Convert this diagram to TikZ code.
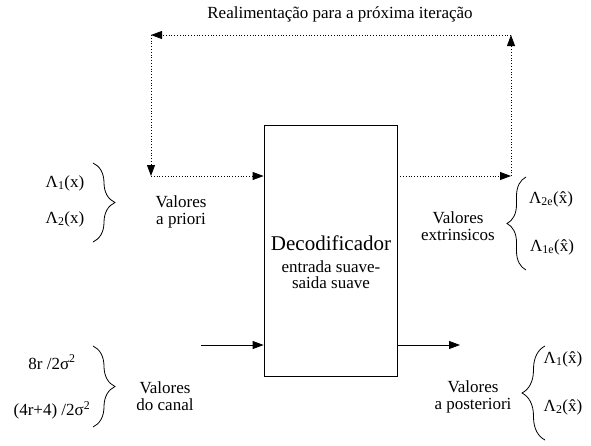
\documentclass[tikz,border=0pt]{standalone}
\usepackage{fontspec}
\setmainfont{Liberation Serif}
\usetikzlibrary{arrows.meta,decorations.pathreplacing}
\begin{document}
\begin{tikzpicture}[x=1pt,y=-1pt,
 lbl/.style={font=\fontsize{17}{17}\selectfont, inner sep=0pt, align=center},
 arrtip/.style={-{Triangle[length=11pt,width=8pt]}},
 fb/.style={dotted, line width=0.8pt, arrtip},
 sig/.style={line width=0.8pt, arrtip},
 brc/.style={decorate, decoration={brace, amplitude=#1}, line width=0.8pt}]
\useasboundingbox (0,0) rectangle (591,445);
% decoder block
\node[draw, line width=0.8pt, minimum width=133pt, minimum height=251pt, inner sep=0pt] (dec) at (330.5,250.5) {};
\node[font=\fontsize{21}{21}\selectfont, inner sep=0pt] (d1) at (331,243) {Decodificador};
\node[lbl] (d2) at (331,267) {entrada suave-};
\node[lbl] (d3) at (331,283) {saida suave};
% feedback loop
\coordinate (rt) at (511,176);
\coordinate (tr) at (511,35);
\coordinate (tl) at (151,35);
\coordinate (lt) at (151,176);
\draw[fb] (dec.east |- rt) -- (rt);
\draw[fb] (rt) -- (tr);
\draw[fb] (tr) -- (tl);
\draw[fb] (tl) -- (lt);
\draw[fb] (lt) -- (lt -| dec.west);
\node[lbl] (title) at (340,14) {Realimentação para a próxima iteração};
% channel input and output
\coordinate (cin) at (201,345);
\coordinate (pout) at (460,345);
\draw[sig] (cin) -- (cin -| dec.west);
\draw[sig] (dec.east |- pout) -- (pout);
% a priori
\node[lbl] (L1) at (65,183) {Λ\textsubscript{1}(x)};
\node[lbl] (L2) at (65,219) {Λ\textsubscript{2}(x)};
\coordinate (b1a) at (93,163);
\coordinate (b1b) at (93,242);
\draw[brc=22pt] (b1a) -- (b1b);
\node[lbl] (apr) at (181,212) {Valores\\a priori};
% extrinsic
\node[lbl] (E2) at (551,199) {Λ\textsubscript{2e}(\^{x})};
\node[lbl] (E1) at (552,247) {Λ\textsubscript{1e}(\^{x})};
\coordinate (b2a) at (526,270);
\coordinate (b2b) at (526,177);
\draw[brc=19pt] (b2a) -- (b2b);
\node[lbl] (ext) at (458,226) {Valores\\extrinsicos};
% channel values
\node[lbl] (c1) at (52,362) {8r /2σ\textsuperscript{2}};
\node[lbl] (c2) at (52,410) {(4r+4) /2σ\textsuperscript{2}};
\coordinate (b3a) at (93,346);
\coordinate (b3b) at (93,427);
\draw[brc=22pt] (b3a) -- (b3b);
\node[lbl] (can) at (165,396) {Valores\\do canal};
% a posteriori
\node[lbl] (P1) at (563,359) {Λ\textsubscript{1}(\^{x})};
\node[lbl] (P2) at (563,407) {Λ\textsubscript{2}(\^{x})};
\coordinate (b4a) at (545,440);
\coordinate (b4b) at (545,346);
\draw[brc=23pt] (b4a) -- (b4b);
\node[lbl] (pos) at (473,397) {Valores\\a posteriori};
\end{tikzpicture}
\end{document}
